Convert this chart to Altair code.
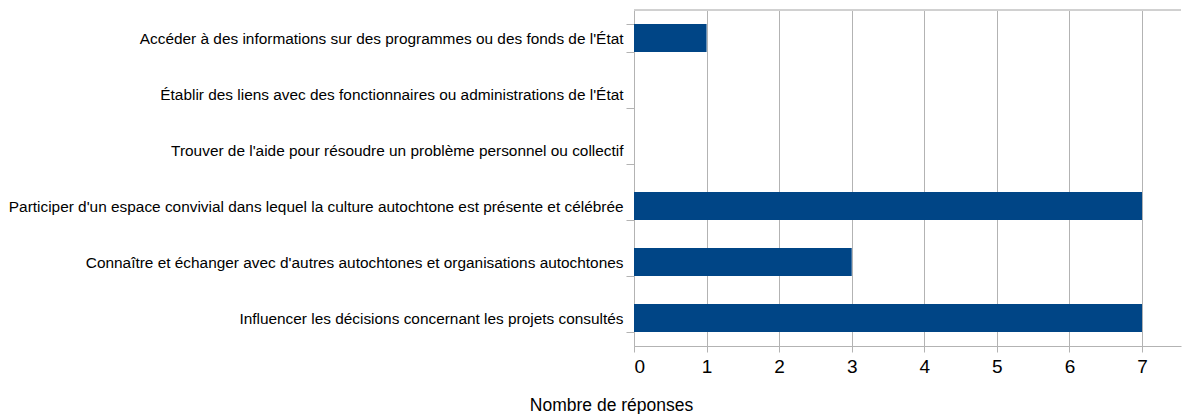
import altair as alt
import pandas as pd

categories = [
    "Accéder à des informations sur des programmes ou des fonds de l'État",
    "Établir des liens avec des fonctionnaires ou administrations de l'État",
    "Trouver de l'aide pour résoudre un problème personnel ou collectif",
    "Participer d'un espace convivial dans lequel la culture autochtone est présente et célébrée",
    "Connaître et échanger avec d'autres autochtones et organisations autochtones",
    "Influencer les décisions concernant les projets consultés",
]
values = [1, 0, 0, 7, 3, 7]
x_ticks = [0, 1, 2, 3, 4, 5, 6, 7]

df = pd.DataFrame({"cat": categories, "val": values})

FONT = "Liberation Sans"
W = 547
XMAX = 7.537

bars = (
    alt.Chart(df)
    .mark_bar(color="#004586")
    .encode(
        y=alt.Y(
            "cat:N",
            sort=categories,
            scale=alt.Scale(paddingInner=0.5, paddingOuter=0.25),
            axis=alt.Axis(
                title=None,
                tickBand="extent",
                tickSize=8,
                tickColor="#b3b3b3",
                domainColor="#b3b3b3",
                labelFont=FONT,
                labelFontSize=15.4,
                labelColor="#000000",
                labelPadding=3,
                labelLimit=1000,
                grid=False,
            ),
        ),
        x=alt.X(
            "val:Q",
            scale=alt.Scale(domain=[0, XMAX], nice=False),
            axis=alt.Axis(
                values=x_ticks,
                title="Nombre de réponses",
                titleFont=FONT,
                titleFontSize=17.5,
                titleFontWeight="normal",
                titleColor="#000000",
                titleX=-23,
                titleY=64,
                titleAlign="center",
                titleBaseline="alphabetic",
                labelFont=FONT,
                labelFontSize=19,
                labelColor="#000000",
                labelPadding=5,
                tickSize=6,
                tickColor="#b3b3b3",
                domainColor="#b3b3b3",
                gridColor="#b3b3b3",
                grid=True,
                format="d",
            ),
        ),
    )
)

top_line = (
    alt.Chart(df)
    .mark_rule(color="#d0d0d0", strokeWidth=1)
    .encode(y=alt.value(0), x=alt.value(0), x2=alt.value(W))
)

chart = (
    alt.layer(bars, top_line)
    .properties(
        width=W,
        height=336,
        padding={"left": 0, "top": -5, "right": 0, "bottom": 0},
    )
    .configure_view(stroke=None)
    .configure_axis(labelOverlap=False)
)

chart.save("out.html", embed_options={"renderer": "svg", "actions": False})
